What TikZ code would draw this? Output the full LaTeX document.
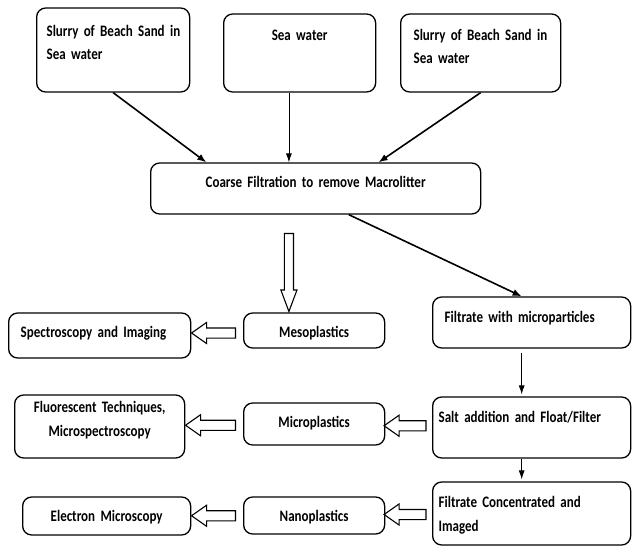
\documentclass[tikz,border=0pt]{standalone}
\usepackage{fontspec}
\setmainfont{Carlito}[FakeStretch=0.8125]
\usepackage{tikz}
\usetikzlibrary{shapes,arrows,positioning,calc,arrows.meta}

\begin{document}
\begin{tikzpicture}[x=1pt, y=-1pt,
    box/.style={draw, rounded corners=9pt, line width=1.3pt, inner ysep=0pt, anchor=base west,
        font=\fontsize{16}{24}\selectfont\bfseries},
    flow/.style={-{Latex[length=9pt,width=7pt]}, line width=1.6pt},
    thin flow/.style={-{Latex[length=9pt,width=6pt]}, line width=0.8pt},
    hollow/.style={single arrow, draw, line width=1.1pt, inner sep=0pt, text height=9pt, text depth=0pt,
        single arrow head extend=5.5pt, single arrow tip angle=70, shape border rotate=180},
    hollow down/.style={single arrow, draw, line width=1.1pt, inner sep=0pt, text height=8pt, text depth=0pt,
        single arrow head extend=3.5pt, single arrow tip angle=41, rotate=-90}]
    \useasboundingbox (0,0) rectangle (633,546);

    % Inputs
    \node[box, inner xsep=10pt, text width=133pt, align=left, text height=28pt, text depth=56pt]
        at (36,36) (s1) {\mbox{Slurry of Beach Sand in}\\Sea water};
    \node[box, inner xsep=6pt, text width=140pt, align=center, text height=26pt, text depth=52pt]
        at (223,40) (sw) {Sea water};
    \node[box, inner xsep=13pt, text width=134pt, align=left, text height=26pt, text depth=52pt]
        at (400,40) (s2) {\mbox{Slurry of Beach Sand in}\\Sea water};

    % Coarse filtration
    \node[box, inner xsep=6pt, text width=318pt, align=center, text height=24pt, text depth=27pt]
        at (150,187) (coarse) {Coarse Filtration to remove Macrolitter};

    % Size classes
    \node[box, inner xsep=6pt, text width=129pt, align=center, text height=24pt, text depth=11pt]
        at (243,337) (meso) {Mesoplastics};
    \node[box, inner xsep=6pt, text width=129pt, align=center, text height=24pt, text depth=18pt]
        at (243,427) (micro) {Microplastics};
    \node[box, inner xsep=6pt, text width=129pt, align=center, text height=24pt, text depth=13pt]
        at (243,521) (nano) {Nanoplastics};

    % Analysis
    \node[box, inner xsep=12pt, text width=158pt, align=left, text height=24pt, text depth=21pt]
        at (8,337) (spec) {Spectroscopy and Imaging};
    \node[box, inner xsep=6pt, text width=158pt, align=center, text height=17pt, text depth=46pt]
        at (14,412) (fluor) {Fluorescent Techniques,\\Microspectroscopy};
    \node[box, inner xsep=6pt, text width=156pt, align=center, text height=24pt, text depth=14pt]
        at (22,521) (elec) {Electron Microscopy};

    % Filtrate line
    \node[box, inner xsep=12pt, text width=174pt, align=left, text height=25pt, text depth=26pt]
        at (432,322) (filt) {Filtrate with microparticles};
    \node[box, inner xsep=6pt, text width=186pt, align=left, text height=25pt, text depth=36pt]
        at (432,422) (salt) {Salt addition and Float/Filter};
    \node[box, inner xsep=6pt, text width=186pt, align=left, text height=25pt, text depth=38pt]
        at (432,507) (conc) {Filtrate Concentrated and\\Imaged};

    % Connections
    \coordinate (swout) at ($(sw.south west)!0.43!(sw.south east)$);
    \coordinate (tap) at ($(filt.south west)!0.45!(filt.south east)$);
    \draw[flow] (s1.south) -- ($(coarse.north west)!0.17!(coarse.north east)$);
    \draw[thin flow] (swout) -- (swout |- coarse.north);
    \draw[flow] (s2.south) -- ($(coarse.north west)!0.69!(coarse.north east)$);
    \draw[flow] ($(coarse.south west)!0.6!(coarse.south east)$) -- ($(filt.north west)!0.45!(filt.north east)$);
    \draw[thin flow, shorten <=4pt, shorten >=2pt] (tap) -- (tap |- salt.north);
    \draw[thin flow, shorten >=2pt] (tap |- salt.south) -- (tap |- conc.north);

    % Hollow arrows
    \node[hollow down, minimum height=78pt] (hv) at ($(swout |- coarse.south)!0.53!(swout |- meso.north)$) {};
    \node[hollow, minimum height=44pt] (h1) at ($(meso.west)!0.5!(spec.east)$) {};
    \node[hollow, minimum height=42pt] (h2) at ($(salt.west)!0.5!(micro.east)$) {};
    \node[hollow, minimum height=50pt] (h3) at ($(micro.west)!0.5!(fluor.east)$) {};
    \node[hollow, minimum height=42pt] (h4) at ($(conc.west)!0.5!(nano.east)$) {};
    \node[hollow, minimum height=44pt] (h5) at ($(nano.west)!0.5!(elec.east)$) {};
\end{tikzpicture}
\end{document}
